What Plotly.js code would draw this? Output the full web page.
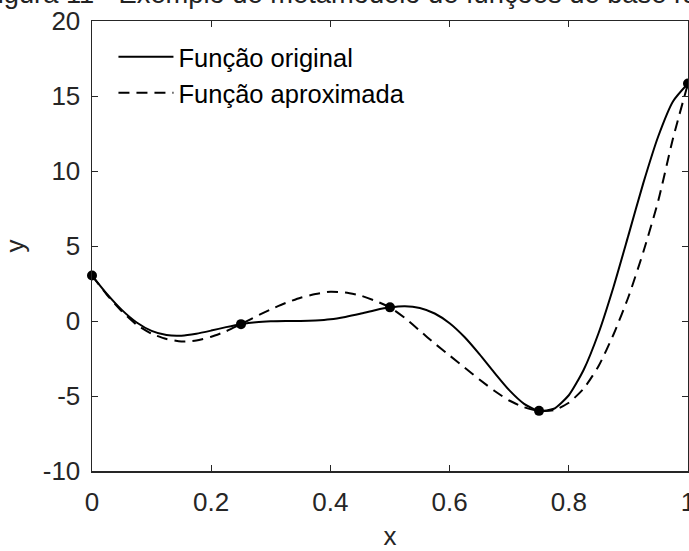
<!DOCTYPE html>
<html>
<head>
<meta charset="utf-8">
<script src="https://cdn.plot.ly/plotly-3.0.1.min.js"></script>
<style>
  html, body { margin: 0; padding: 0; background: #fff; }
  #chart { width: 689px; height: 551px; }
</style>
</head>
<body>
<div id="chart"></div>
<script>
// ---- data ----
const xGrid = [0, 0.025, 0.05, 0.075, 0.1, 0.125, 0.15, 0.175, 0.2, 0.225,
               0.25, 0.275, 0.3, 0.325, 0.35, 0.375, 0.4, 0.425, 0.45, 0.475,
               0.5, 0.525, 0.55, 0.575, 0.6, 0.625, 0.65, 0.675, 0.7, 0.725,
               0.75, 0.775, 0.8, 0.825, 0.85, 0.875, 0.9, 0.925, 0.95, 0.975, 1];

const yOriginal = [3.03, 1.81, 0.74, -0.10, -0.66, -0.94, -0.98, -0.85, -0.64, -0.41,
                   -0.21, -0.08, -0.02, 0.00, 0.00, 0.03, 0.11, 0.27, 0.48, 0.72,
                   0.91, 0.99, 0.87, 0.50, -0.15, -1.07, -2.21, -3.44, -4.61, -5.52,
                   -5.99, -5.85, -4.95, -3.25, -0.80, 2.27, 5.71, 9.19, 12.30, 14.65, 15.83];

const yApprox = [3.03, 1.75, 0.65, -0.25, -0.85, -1.20, -1.37, -1.30, -1.05, -0.68,
                 -0.21, 0.30, 0.78, 1.20, 1.55, 1.80, 1.95, 1.90, 1.70, 1.35,
                 0.91, 0.20, -0.65, -1.50, -2.30, -3.10, -3.90, -4.65, -5.30, -5.75,
                 -5.99, -5.95, -5.45, -4.50, -3.00, -0.90, 1.60, 4.60, 8.00, 12.20, 15.83];

const xSamples = [0, 0.25, 0.5, 0.75, 1];
const ySamples = [3.03, -0.21, 0.91, -5.99, 15.83];

const seriesNames = ['Função original', 'Função aproximada'];
const titleText = 'Figura 11 - Exemplo de metamodelo de funções de base radial';

const xTickVals = [0, 0.2, 0.4, 0.6, 0.8, 1];
const xTickText = ['0', '0.2', '0.4', '0.6', '0.8', '1'];
const yTickVals = [-10, -5, 0, 5, 10, 15, 20];
const yTickText = ['-10', '-5', '0', '5', '10', '15', '20'];

// ---- chart ----
const FONT = 'Liberation Sans, Arial, Helvetica, sans-serif';
const AX = '#262626';

const traces = [
  {
    x: xGrid, y: yOriginal, name: seriesNames[0], type: 'scatter', mode: 'lines',
    line: { color: '#000', width: 2, shape: 'spline', smoothing: 0.6 }
  },
  {
    x: xGrid, y: yApprox, name: seriesNames[1], type: 'scatter', mode: 'lines',
    line: { color: '#000', width: 2, dash: '11px,7px', shape: 'spline', smoothing: 0.6 }
  },
  {
    x: xSamples, y: ySamples, type: 'scatter', mode: 'markers', showlegend: false,
    marker: { color: '#000', size: 10 }, cliponaxis: false
  }
];

const axisCommon = {
  showline: true, linecolor: AX, linewidth: 1.5, mirror: 'ticks',
  ticks: 'inside', ticklen: 6, tickwidth: 1, tickcolor: AX,
  showgrid: false, zeroline: false, ticklabeloverflow: 'allow',
  tickfont: { family: FONT, size: 26, color: AX }
};

const layout = {
  width: 689, height: 551,
  margin: { l: 91.5, r: 1, t: 21, b: 80, pad: 0 },
  paper_bgcolor: '#fff', plot_bgcolor: '#fff',
  showlegend: true,
  legend: {
    x: 0.036, y: 0.972, xanchor: 'left', yanchor: 'top',
    bgcolor: 'rgba(0,0,0,0)', borderwidth: 0,
    font: { family: FONT, size: 25.5, color: '#000' },
    itemwidth: 55, tracegroupgap: 0
  },
  xaxis: Object.assign({}, axisCommon, {
    range: [0, 1], tickmode: 'array', tickvals: xTickVals, ticktext: xTickText,
    ticklabelstandoff: 7,
    title: { text: 'x', font: { family: FONT, size: 26, color: AX }, standoff: 27 }
  }),
  yaxis: Object.assign({}, axisCommon, {
    range: [-10, 20], tickmode: 'array', tickvals: yTickVals, ticktext: yTickText,
    ticklabelstandoff: 5,
    title: { text: 'y', font: { family: FONT, size: 26, color: AX }, standoff: 14 }
  }),
  annotations: [{
    text: titleText, xref: 'paper', yref: 'paper', x: 0.452, y: 1.022,
    xanchor: 'center', yanchor: 'bottom', showarrow: false,
    font: { family: FONT, size: 27.3, color: '#222' }
  }]
};

Plotly.newPlot('chart', traces, layout, { displayModeBar: false, staticPlot: true });
</script>
</body>
</html>
